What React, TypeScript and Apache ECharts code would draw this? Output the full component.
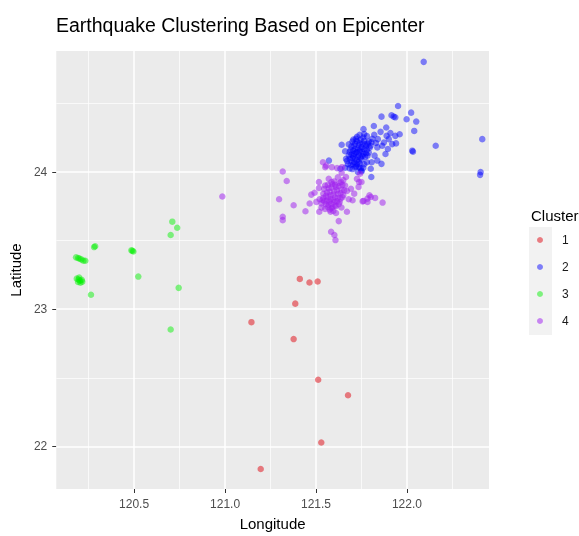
import React, { useEffect, useRef } from "react";
import * as echarts from "echarts";

// ---- data (longitude, latitude) ----
const cluster1: number[][] = [
  [121.411, 23.22], [121.464, 23.194], [121.509, 23.201], [121.386, 23.04],
  [121.145, 22.905], [121.377, 22.782], [121.512, 22.486], [121.676, 22.373],
  [121.529, 22.029], [121.196, 21.836],
];

const cluster2: number[][] = [
  [122.092, 24.801], [122.414, 24.238], [122.405, 23.998], [122.402, 23.978], [122.158, 24.19],
  [121.951, 24.479], [121.86, 24.402], [121.915, 24.412], [121.927, 24.402], [121.936, 24.397],
  [122.023, 24.431], [121.998, 24.383], [122.051, 24.366], [122.04, 24.298], [122.029, 24.154],
  [122.033, 24.147], [121.818, 24.334], [121.761, 24.311], [121.886, 24.323], [121.855, 24.291],
  [121.96, 24.274], [121.909, 24.282], [121.936, 24.262], [121.888, 24.262], [121.9, 24.238],
  [121.94, 24.207], [121.919, 24.202], [121.873, 24.214], [121.864, 24.19], [121.895, 24.166],
  [121.882, 24.13], [121.84, 24.238], [121.837, 24.178], [121.822, 24.118], [121.837, 24.082],
  [121.86, 24.058], [121.806, 24.07], [121.801, 24.022], [121.804, 23.962], [121.75, 24.002],
  [121.783, 24.118], [121.641, 24.197], [121.571, 24.082], [121.634, 24.022], [121.665, 24.094],
  [121.70, 24.22], [121.72, 24.24], [121.74, 24.21], [121.76, 24.25], [121.71, 24.19],
  [121.73, 24.17], [121.75, 24.18], [121.77, 24.20], [121.69, 24.16], [121.72, 24.14],
  [121.74, 24.15], [121.76, 24.13], [121.78, 24.16], [121.68, 24.12], [121.70, 24.10],
  [121.73, 24.11], [121.75, 24.09], [121.77, 24.11], [121.79, 24.14], [121.71, 24.07],
  [121.69, 24.05], [121.72, 24.04], [121.74, 24.06], [121.76, 24.03], [121.78, 24.07],
  [121.70, 24.02], [121.67, 24.08], [121.66, 24.03], [121.73, 24.00], [121.75, 24.01],
  [121.80, 24.19], [121.79, 24.22], [121.74, 24.27], [121.78, 24.26], [121.81, 24.24],
  [121.83, 24.21], [121.82, 24.27], [121.71, 24.13], [121.68, 24.20], [121.66, 24.15],
  [121.705, 24.235], [121.715, 24.205], [121.725, 24.225], [121.735, 24.195], [121.745, 24.235],
  [121.755, 24.205], [121.765, 24.225], [121.775, 24.185], [121.695, 24.185], [121.705, 24.155],
  [121.715, 24.165], [121.725, 24.145], [121.735, 24.125], [121.745, 24.165], [121.755, 24.145],
  [121.765, 24.165], [121.685, 24.145], [121.695, 24.125], [121.705, 24.115], [121.715, 24.095],
  [121.725, 24.085], [121.735, 24.075], [121.745, 24.105], [121.755, 24.115], [121.685, 24.095],
  [121.695, 24.075], [121.705, 24.055], [121.715, 24.035], [121.725, 24.055], [121.735, 24.035],
  [121.745, 24.025], [121.675, 24.055], [121.685, 24.025], [121.765, 24.055], [121.775, 24.135],
  [121.785, 24.205], [121.795, 24.175], [121.725, 24.255], [121.765, 24.275], [121.805, 24.215],
];

const cluster3: number[][] = [
  [120.71, 23.637], [120.737, 23.593], [120.701, 23.54], [120.286, 23.458], [120.28, 23.452],
  [120.491, 23.425], [120.496, 23.42], [120.485, 23.428], [120.181, 23.377], [120.192, 23.372],
  [120.2, 23.368], [120.21, 23.362], [120.221, 23.353], [120.232, 23.352], [120.185, 23.222],
  [120.195, 23.215], [120.203, 23.208], [120.212, 23.213], [120.192, 23.198], [120.205, 23.192],
  [120.215, 23.2], [120.198, 23.23], [120.523, 23.237], [120.263, 23.105], [120.745, 23.155],
  [120.701, 22.852],
];

const cluster4: number[][] = [
  [120.985, 23.82], [121.317, 24.002], [121.339, 23.933], [121.297, 23.8], [121.377, 23.757],
  [121.317, 23.673], [121.317, 23.648], [121.442, 23.713], [121.465, 23.769], [121.474, 23.834],
  [121.492, 23.848], [121.516, 23.926], [121.516, 23.882], [121.538, 24.07], [121.551, 24.034],
  [121.556, 24.045], [121.587, 24.034], [121.616, 24.027], [121.643, 24.034], [121.641, 23.993],
  [121.502, 23.781], [121.518, 23.709], [121.583, 23.564], [121.601, 23.54], [121.607, 23.503],
  [121.625, 23.641], [121.67, 23.709], [121.761, 23.788], [121.783, 23.805], [121.801, 23.817],
  [121.825, 23.81], [121.866, 23.776], [121.794, 23.829], [121.756, 23.785], [121.783, 23.78],
  [121.701, 23.793], [121.71, 23.841], [121.692, 23.877], [121.737, 23.926], [121.742, 23.986],
  [121.725, 23.949], [121.638, 23.926], [121.665, 23.962], [121.75, 23.926], [121.734, 23.89],
  [121.55, 23.90], [121.57, 23.88], [121.59, 23.91], [121.61, 23.89], [121.63, 23.92],
  [121.56, 23.85], [121.58, 23.83], [121.60, 23.86], [121.62, 23.84], [121.64, 23.87],
  [121.54, 23.81], [121.56, 23.79], [121.58, 23.80], [121.60, 23.78], [121.62, 23.81],
  [121.57, 23.76], [121.59, 23.74], [121.61, 23.75], [121.55, 23.73], [121.53, 23.77],
  [121.63, 23.78], [121.65, 23.83], [121.66, 23.90], [121.60, 23.93], [121.57, 23.95],
  [121.54, 23.84], [121.52, 23.80], [121.62, 23.96], [121.65, 23.94], [121.67, 23.86],
  [121.58, 23.71], [121.64, 23.74], [121.68, 23.80], [121.53, 23.74], [121.61, 23.70],
  [121.545, 23.875], [121.555, 23.825], [121.565, 23.905], [121.575, 23.855], [121.585, 23.885],
  [121.595, 23.835], [121.605, 23.815], [121.615, 23.865], [121.625, 23.895], [121.635, 23.845],
  [121.545, 23.785], [121.555, 23.765], [121.565, 23.745], [121.575, 23.785], [121.585, 23.765],
  [121.595, 23.795], [121.605, 23.755], [121.615, 23.785], [121.625, 23.765], [121.635, 23.805],
  [121.565, 23.815], [121.575, 23.725], [121.585, 23.735], [121.595, 23.715], [121.645, 23.815],
  [121.655, 23.865], [121.645, 23.905], [121.605, 23.905], [121.585, 23.925], [121.535, 23.795],
];

const clusterNames = ["1", "2", "3", "4"];
const clusterColors = [
  "rgba(225,30,40,0.7)",
  "rgba(0,0,255,0.6)",
  "rgba(0,240,0,0.6)",
  "rgba(160,32,240,0.65)",
];

const xMajor = [120.5, 121.0, 121.5, 122.0];
const xMinor = [120.25, 120.75, 121.25, 121.75, 122.25];
const yMajor = [22, 23, 24];
const yMinor = [22.5, 23.5, 24.5];
const xRange = [120.072, 122.451];
const yRange = [21.69, 24.88];

export default function App() {
  const ref = useRef<HTMLDivElement>(null);

  useEffect(() => {
    if (!ref.current) return;
    const chart = echarts.init(ref.current, undefined, { renderer: "svg" });
    const allData = [cluster1, cluster2, cluster3, cluster4];

    const gridLines: any[] = [
      ...xMinor.map((v) => ({ xAxis: v, lineStyle: { width: 0.7 } })),
      ...yMinor.map((v) => ({ yAxis: v, lineStyle: { width: 0.7 } })),
      ...xMajor.map((v) => ({ xAxis: v, lineStyle: { width: 1.5 } })),
      ...yMajor.map((v) => ({ yAxis: v, lineStyle: { width: 1.5 } })),
    ];

    const font = "Liberation Sans, Arial, sans-serif";

    chart.setOption({
      animation: false,
      textStyle: { fontFamily: font },
      title: [
        {
          text: "Earthquake Clustering Based on Epicenter",
          left: 51,
          top: 10,
          textStyle: { fontSize: 19.5, fontWeight: "normal", color: "#000", fontFamily: font },
        },
        {
          text: "Cluster",
          left: 526,
          top: 203,
          textStyle: { fontSize: 15, fontWeight: "normal", color: "#000", fontFamily: font },
        },
      ],
      graphic: [
        {
          type: "rect",
          x: 529,
          y: 227,
          shape: { x: 0, y: 0, width: 23, height: 108 },
          style: { fill: "#F2F2F2" },
          z: 0,
        },
      ],
      legend: {
        orient: "vertical",
        left: 537,
        top: 226.5,
        padding: 0,
        itemGap: 0,
        itemWidth: 6,
        itemHeight: 6,
        icon: "circle",
        data: clusterNames,
        textStyle: {
          fontSize: 12,
          color: "#1a1a1a",
          lineHeight: 27,
          padding: [0, 0, 0, 14],
          fontFamily: font,
        },
      },
      grid: {
        left: 52,
        right: 90,
        top: 51,
        bottom: 43,
        show: true,
        backgroundColor: "#EBEBEB",
        borderWidth: 0,
        containLabel: false,
      },
      xAxis: {
        type: "value",
        min: xRange[0],
        max: xRange[1],
        name: "Longitude",
        nameLocation: "middle",
        nameGap: 27,
        nameTextStyle: { fontSize: 15, color: "#000", fontFamily: font },
        axisLine: { show: false },
        splitLine: { show: false },
        axisTick: {
          show: true,
          length: 4,
          customValues: xMajor,
          lineStyle: { color: "#333", width: 1 },
        },
        axisLabel: {
          customValues: xMajor,
          margin: 9,
          fontSize: 12,
          color: "#4D4D4D",
          fontFamily: font,
          formatter: (v: number) => v.toFixed(1),
        },
      },
      yAxis: {
        type: "value",
        min: yRange[0],
        max: yRange[1],
        name: "Latitude",
        nameLocation: "middle",
        nameGap: 24,
        nameRotate: 90,
        nameTextStyle: { fontSize: 15, color: "#000", fontFamily: font },
        axisLine: { show: false },
        splitLine: { show: false },
        axisTick: {
          show: true,
          length: 4,
          customValues: yMajor,
          lineStyle: { color: "#333", width: 1 },
        },
        axisLabel: {
          customValues: yMajor,
          margin: 9,
          fontSize: 12,
          color: "#4D4D4D",
          fontFamily: font,
          formatter: (v: number) => String(Math.round(v)),
        },
      },
      series: [
        {
          type: "line",
          data: [],
          silent: true,
          z: 1,
          markLine: {
            silent: true,
            symbol: "none",
            z: 1,
            label: { show: false },
            lineStyle: { color: "#FFFFFF", type: "solid" },
            emphasis: { disabled: true },
            data: gridLines,
          },
        },
        ...clusterNames.map((name, i) => ({
          type: "scatter",
          name,
          data: allData[i],
          symbol: "circle",
          symbolSize: 6.5,
          z: 3,
          itemStyle: { color: clusterColors[i] },
          emphasis: { disabled: true },
        })),
      ],
    });

    return () => chart.dispose();
  }, []);

  return (
    <div
      ref={ref}
      style={{ position: "fixed", left: 0, top: 0, width: 579, height: 536 }}
    />
  );
}
